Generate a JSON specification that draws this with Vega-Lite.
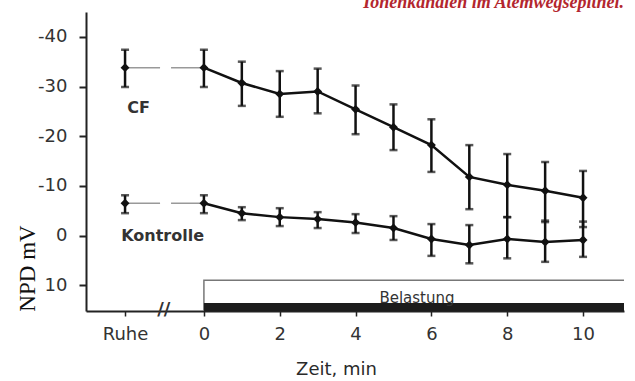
{
  "$schema": "https://vega.github.io/schema/vega-lite/v6.json",
  "width": 538,
  "height": 299,
  "autosize": {"type": "none"},
  "padding": {"left": 86, "top": 12, "right": 11, "bottom": 70},
  "background": "white",
  "title": {
    "text": "Ionenkanälen im Atemwegsepithel.",
    "anchor": "end",
    "frame": "group",
    "font": "Liberation Serif",
    "fontSize": 18,
    "fontStyle": "italic",
    "fontWeight": "bold",
    "color": "#b3262e",
    "offset": 0
  },
  "config": {"view": {"stroke": null}},
  "datasets": {
    "pts": [
      {"series": "CF", "t": -2.08, "mean": -33.8, "lo": -37.4, "hi": -29.9},
      {"series": "CF", "t": 0, "mean": -33.8, "lo": -37.4, "hi": -29.9},
      {"series": "CF", "t": 1, "mean": -30.7, "lo": -35.0, "hi": -26.1},
      {"series": "CF", "t": 2, "mean": -28.5, "lo": -33.1, "hi": -23.9},
      {"series": "CF", "t": 3, "mean": -29.0, "lo": -33.6, "hi": -24.6},
      {"series": "CF", "t": 4, "mean": -25.4, "lo": -30.2, "hi": -20.4},
      {"series": "CF", "t": 5, "mean": -21.8, "lo": -26.4, "hi": -17.2},
      {"series": "CF", "t": 6, "mean": -18.2, "lo": -23.4, "hi": -12.8},
      {"series": "CF", "t": 7, "mean": -11.8, "lo": -18.2, "hi": -5.3},
      {"series": "CF", "t": 8, "mean": -10.2, "lo": -16.4, "hi": -3.7},
      {"series": "CF", "t": 9, "mean": -9.0, "lo": -14.8, "hi": -2.7},
      {"series": "CF", "t": 10, "mean": -7.6, "lo": -13.0, "hi": -1.7},
      {"series": "K", "t": -2.08, "mean": -6.5, "lo": -8.1, "hi": -4.5},
      {"series": "K", "t": 0, "mean": -6.5, "lo": -8.1, "hi": -4.5},
      {"series": "K", "t": 1, "mean": -4.5, "lo": -5.7, "hi": -3.1},
      {"series": "K", "t": 2, "mean": -3.7, "lo": -5.5, "hi": -1.9},
      {"series": "K", "t": 3, "mean": -3.3, "lo": -4.7, "hi": -1.5},
      {"series": "K", "t": 4, "mean": -2.6, "lo": -4.3, "hi": -0.5},
      {"series": "K", "t": 5, "mean": -1.5, "lo": -3.9, "hi": 0.9},
      {"series": "K", "t": 6, "mean": 0.7, "lo": -2.3, "hi": 4.1},
      {"series": "K", "t": 7, "mean": 1.9, "lo": -2.1, "hi": 5.6},
      {"series": "K", "t": 8, "mean": 0.7, "lo": -3.7, "hi": 4.6},
      {"series": "K", "t": 9, "mean": 1.3, "lo": -3.0, "hi": 5.3},
      {"series": "K", "t": 10, "mean": 0.9, "lo": -2.8, "hi": 4.3}
    ],
    "box": [{"x": 0, "x2": 11.8, "y": 9.0, "y2": 15.2, "by": 13.6, "by2": 15.6}],
    "labels": [
      {"x": -1.72, "y": -25.7, "text": "CF", "kind": "series"},
      {"x": -1.09, "y": 0.2, "text": "Kontrolle", "kind": "series"},
      {"x": 5.62, "y": 12.6, "text": "Belastung", "kind": "band"},
      {"x": -1.06, "y": 14.9, "text": "//", "kind": "break"}
    ]
  },
  "layer": [
    {
      "data": {"name": "box"},
      "mark": {"type": "rect", "fill": "white", "stroke": "#777", "strokeWidth": 1.5, "clip": true},
      "encoding": {
        "x": {"field": "x", "type": "quantitative",
          "scale": {"domain": [-3.11, 11.08], "nice": false, "zero": false},
          "axis": {
            "values": [-2.08, 0, 2, 4, 6, 8, 10],
            "labelExpr": "datum.value < -1 ? 'Ruhe' : datum.label",
            "title": "Zeit, min",
            "grid": false,
            "domainColor": "#222", "domainWidth": 2,
            "tickColor": "#222", "tickWidth": 1.5, "tickSize": 5,
            "labelFont": "DejaVu Sans", "labelFontSize": 18, "labelColor": "#333", "labelPadding": 9,
            "titleFont": "DejaVu Sans", "titleFontSize": 18, "titleFontWeight": "normal", "titleColor": "#2a2a2a",
            "titleX": 250, "titleY": 58, "titleAlign": "center", "titleBaseline": "middle"
          }},
        "x2": {"field": "x2"},
        "y": {"field": "y", "type": "quantitative",
          "scale": {"domain": [-45, 15.2], "nice": false, "zero": false, "reverse": true},
          "axis": {
            "values": [-40, -30, -20, -10, 0, 10],
            "labelExpr": "datum.value < 0 ? '-' + abs(datum.value) : '' + datum.value",
            "title": "NPD mV",
            "grid": false,
            "domainColor": "#222", "domainWidth": 2,
            "tickColor": "#222", "tickWidth": 2, "tickSize": 7,
            "labelFont": "DejaVu Sans", "labelFontSize": 18, "labelColor": "#333", "labelPadding": 12,
            "titleFont": "Liberation Serif", "titleFontSize": 23, "titleFontWeight": "normal", "titleColor": "#111",
            "titleX": -52, "titleY": 256, "titleAlign": "center", "titleBaseline": "alphabetic", "titleAngle": 270
          }},
        "y2": {"field": "y2"}
      }
    },
    {
      "data": {"name": "box"},
      "mark": {"type": "rect", "fill": "#1c1c1c", "clip": true},
      "encoding": {
        "x": {"field": "x", "type": "quantitative", "scale": {"domain": [-3.11, 11.08], "nice": false, "zero": false}},
        "x2": {"field": "x2"},
        "y": {"field": "by", "type": "quantitative", "scale": {"domain": [-45, 15.2], "nice": false, "zero": false, "reverse": true}},
        "y2": {"field": "by2"}
      }
    },
    {
      "data": {"name": "pts"},
      "transform": [{"filter": "datum.t <= 0"}],
      "mark": {"type": "line", "color": "#999", "strokeWidth": 1.5, "strokeDash": [35, 11]},
      "encoding": {
        "x": {"field": "t", "type": "quantitative", "scale": {"domain": [-3.11, 11.08], "nice": false, "zero": false}},
        "y": {"field": "mean", "type": "quantitative", "scale": {"domain": [-45, 15.2], "nice": false, "zero": false, "reverse": true}},
        "detail": {"field": "series"}
      }
    },
    {
      "data": {"name": "pts"},
      "transform": [{"filter": "datum.t >= 0"}],
      "mark": {"type": "line", "color": "#111", "strokeWidth": 2.5},
      "encoding": {
        "x": {"field": "t", "type": "quantitative", "scale": {"domain": [-3.11, 11.08], "nice": false, "zero": false}},
        "y": {"field": "mean", "type": "quantitative", "scale": {"domain": [-45, 15.2], "nice": false, "zero": false, "reverse": true}},
        "detail": {"field": "series"}
      }
    },
    {
      "data": {"name": "pts"},
      "mark": {"type": "rule", "color": "#111", "strokeWidth": 2.5},
      "encoding": {
        "x": {"field": "t", "type": "quantitative", "scale": {"domain": [-3.11, 11.08], "nice": false, "zero": false}},
        "y": {"field": "lo", "type": "quantitative", "scale": {"domain": [-45, 15.2], "nice": false, "zero": false, "reverse": true}},
        "y2": {"field": "hi"}
      }
    },
    {
      "data": {"name": "pts"},
      "mark": {"type": "tick", "orient": "horizontal", "color": "#111", "size": 8, "thickness": 2.5},
      "encoding": {
        "x": {"field": "t", "type": "quantitative", "scale": {"domain": [-3.11, 11.08], "nice": false, "zero": false}},
        "y": {"field": "lo", "type": "quantitative", "scale": {"domain": [-45, 15.2], "nice": false, "zero": false, "reverse": true}}
      }
    },
    {
      "data": {"name": "pts"},
      "mark": {"type": "tick", "orient": "horizontal", "color": "#111", "size": 8, "thickness": 2.5},
      "encoding": {
        "x": {"field": "t", "type": "quantitative", "scale": {"domain": [-3.11, 11.08], "nice": false, "zero": false}},
        "y": {"field": "hi", "type": "quantitative", "scale": {"domain": [-45, 15.2], "nice": false, "zero": false, "reverse": true}}
      }
    },
    {
      "data": {"name": "pts"},
      "mark": {"type": "point", "shape": "diamond", "filled": true, "color": "#111", "size": 80, "opacity": 1},
      "encoding": {
        "x": {"field": "t", "type": "quantitative", "scale": {"domain": [-3.11, 11.08], "nice": false, "zero": false}},
        "y": {"field": "mean", "type": "quantitative", "scale": {"domain": [-45, 15.2], "nice": false, "zero": false, "reverse": true}}
      }
    },
    {
      "data": {"name": "labels"},
      "transform": [{"filter": "datum.kind == 'series'"}],
      "mark": {"type": "text", "font": "DejaVu Sans", "fontSize": 16, "fontWeight": "bold", "color": "#333", "align": "center", "baseline": "middle"},
      "encoding": {
        "x": {"field": "x", "type": "quantitative", "scale": {"domain": [-3.11, 11.08], "nice": false, "zero": false}},
        "y": {"field": "y", "type": "quantitative", "scale": {"domain": [-45, 15.2], "nice": false, "zero": false, "reverse": true}},
        "text": {"field": "text"}
      }
    },
    {
      "data": {"name": "labels"},
      "transform": [{"filter": "datum.kind == 'band'"}],
      "mark": {"type": "text", "font": "DejaVu Sans", "fontSize": 15, "color": "#333", "align": "center", "baseline": "middle"},
      "encoding": {
        "x": {"field": "x", "type": "quantitative", "scale": {"domain": [-3.11, 11.08], "nice": false, "zero": false}},
        "y": {"field": "y", "type": "quantitative", "scale": {"domain": [-45, 15.2], "nice": false, "zero": false, "reverse": true}},
        "text": {"field": "text"}
      }
    },
    {
      "data": {"name": "labels"},
      "transform": [{"filter": "datum.kind == 'break'"}],
      "mark": {"type": "text", "font": "DejaVu Sans", "fontSize": 18, "fontWeight": "bold", "color": "#333", "align": "center", "baseline": "middle"},
      "encoding": {
        "x": {"field": "x", "type": "quantitative", "scale": {"domain": [-3.11, 11.08], "nice": false, "zero": false}},
        "y": {"field": "y", "type": "quantitative", "scale": {"domain": [-45, 15.2], "nice": false, "zero": false, "reverse": true}},
        "text": {"field": "text"}
      }
    }
  ]
}
